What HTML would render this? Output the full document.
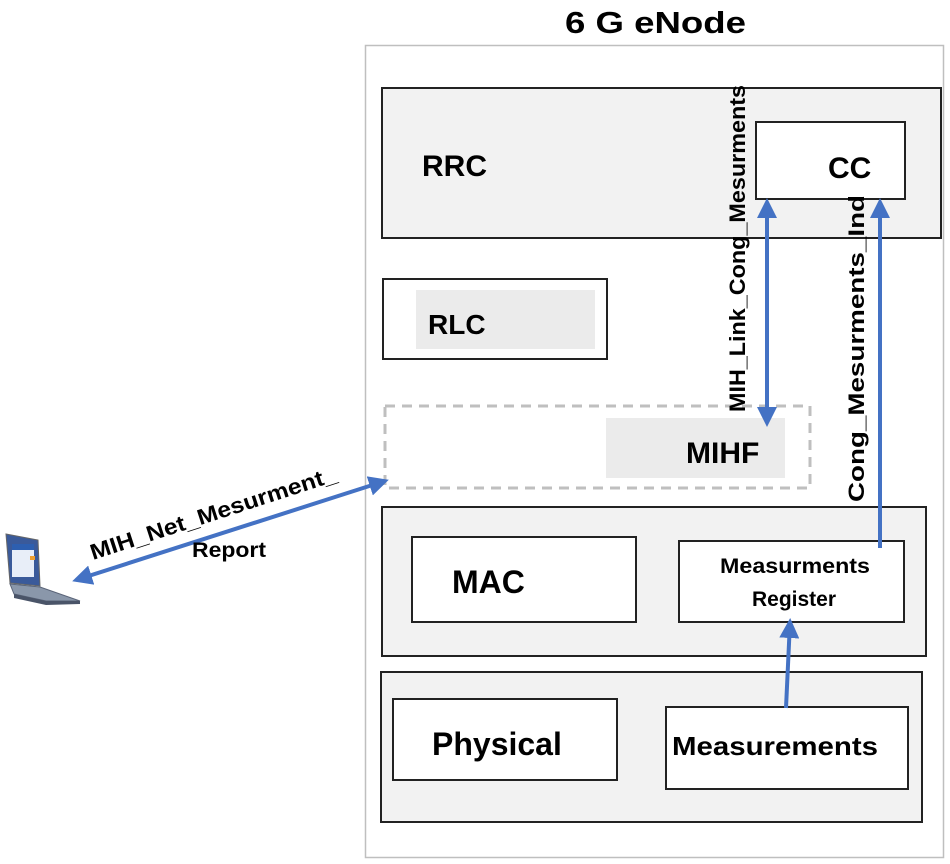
<!DOCTYPE html>
<html><head><meta charset="utf-8"><style>
html,body{margin:0;padding:0;background:#fff}
svg{display:block}
text{font-family:"Liberation Sans","DejaVu Sans",sans-serif;font-weight:bold;fill:#000}
</style></head><body>
<svg width="950" height="864" viewBox="0 0 950 864" xmlns="http://www.w3.org/2000/svg">
<defs>
<marker id="ah" viewBox="0 0 10 10" refX="8" refY="5" markerWidth="5" markerHeight="5" orient="auto-start-reverse">
<path d="M0,0 L10,5 L0,10 z" fill="#4472c4"/></marker>
</defs>
<text x="565" y="33" font-size="31" textLength="181" lengthAdjust="spacingAndGlyphs">6 G eNode</text>
<rect x="365.5" y="45.5" width="578" height="812" fill="#fff" stroke="#bfbfbf" stroke-width="1.5"/>
<rect x="382" y="88" width="559" height="150" fill="#f2f2f2" stroke="#222" stroke-width="2"/>
<text x="422" y="176" font-size="30">RRC</text>
<rect x="756" y="122" width="149" height="77" fill="#fff" stroke="#222" stroke-width="2"/>
<text x="828" y="178" font-size="30">CC</text>
<rect x="383" y="279" width="224" height="80" fill="#fff" stroke="#222" stroke-width="2"/>
<rect x="416" y="290" width="179" height="59" fill="#ebebeb"/>
<text x="428" y="334" font-size="28">RLC</text>
<rect x="385" y="406" width="425" height="82" fill="#fff" stroke="#bfbfbf" stroke-width="3" stroke-dasharray="10,7"/>
<rect x="606" y="418" width="179" height="60" fill="#ebebeb"/>
<text x="686" y="463" font-size="30">MIHF</text>
<rect x="382" y="507" width="544" height="149" fill="#f2f2f2" stroke="#222" stroke-width="2"/>
<rect x="412" y="537" width="224" height="85" fill="#fff" stroke="#222" stroke-width="2"/>
<text x="452" y="593" font-size="32">MAC</text>
<rect x="679" y="541" width="225" height="81" fill="#fff" stroke="#222" stroke-width="2"/>
<text x="720" y="573" font-size="21" textLength="150" lengthAdjust="spacingAndGlyphs">Measurments</text>
<text x="794" y="606" font-size="21" text-anchor="middle">Register</text>
<rect x="381" y="672" width="541" height="150" fill="#f2f2f2" stroke="#222" stroke-width="2"/>
<rect x="393" y="699" width="224" height="81" fill="#fff" stroke="#222" stroke-width="2"/>
<text x="432" y="755" font-size="32">Physical</text>
<rect x="666" y="707" width="242" height="82" fill="#fff" stroke="#222" stroke-width="2"/>
<text x="672" y="755" font-size="26" textLength="206" lengthAdjust="spacingAndGlyphs">Measurements</text>
<line x1="767" y1="202" x2="767" y2="423" stroke="#4472c4" stroke-width="4" marker-start="url(#ah)" marker-end="url(#ah)"/>
<line x1="880" y1="548" x2="880" y2="202" stroke="#4472c4" stroke-width="4" marker-end="url(#ah)"/>
<line x1="786" y1="708" x2="790" y2="622" stroke="#4472c4" stroke-width="4" marker-end="url(#ah)"/>
<line x1="385" y1="481" x2="76" y2="580" stroke="#4472c4" stroke-width="4" marker-start="url(#ah)" marker-end="url(#ah)"/>
<text transform="translate(745,412) rotate(-90)" font-size="22" textLength="327" lengthAdjust="spacingAndGlyphs">MIH_Link_Cong_Mesurments</text>
<text transform="translate(864,502) rotate(-90)" font-size="22" textLength="307" lengthAdjust="spacingAndGlyphs">Cong_Mesurments_Ind</text>
<text transform="translate(93,560) rotate(-18)" font-size="22" textLength="258" lengthAdjust="spacingAndGlyphs">MIH_Net_Mesurment_</text>
<text x="192" y="557" font-size="21" textLength="74" lengthAdjust="spacingAndGlyphs">Report</text>
<g>
<polygon points="6,534 38,540 40,586 10,583" fill="#3a5a9a" stroke="#666"/>
<rect x="12" y="545" width="22" height="32" fill="#e8eef8"/>
<rect x="12" y="544" width="22" height="6" fill="#2d5fb0"/>
<rect x="30" y="556" width="5" height="4" fill="#f0a030"/>
<polygon points="10,584 40,587 80,601 46,601 14,594" fill="#8a97aa" stroke="#5a6478"/>
<polygon points="14,594 46,601 80,601 80,604 46,605 14,598" fill="#4a5468"/>
</g>
</svg>
</body></html>
